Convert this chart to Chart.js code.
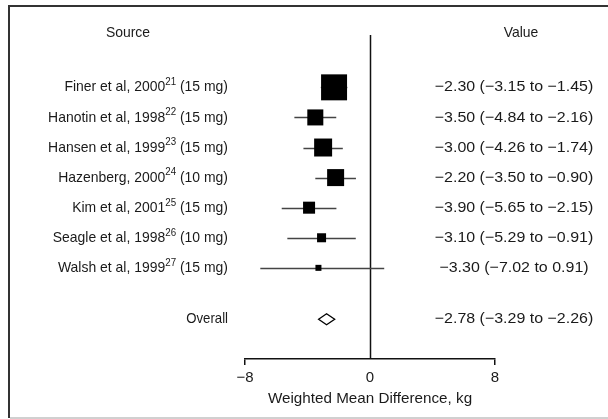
<!DOCTYPE html>
<html>
<head>
<meta charset="utf-8">
<script src="https://cdn.jsdelivr.net/npm/chart.js@4/dist/chart.umd.min.js"></script>
<style>
  html, body { margin: 0; padding: 0; background: #fff; }
  #wrap { width: 608px; height: 419px; position: relative; }
</style>
</head>
<body>
<div id="wrap"><canvas id="forest"></canvas></div>
<script>
// Study rows (top to bottom)
const studies = ['Finer et al, 2000', 'Hanotin et al, 1998', 'Hansen et al, 1999', 'Hazenberg, 2000',
                 'Kim et al, 2001', 'Seagle et al, 1998', 'Walsh et al, 1999'];
const refs = ['21', '22', '23', '24', '25', '26', '27'];
const doses = ['(15 mg)', '(15 mg)', '(15 mg)', '(10 mg)', '(15 mg)', '(10 mg)', '(15 mg)'];
const means = [-2.30, -3.50, -3.00, -2.20, -3.90, -3.10, -3.30];
const lowers = [-3.15, -4.84, -4.26, -3.50, -5.65, -5.29, -7.02];
const uppers = [-1.45, -2.16, -1.74, -0.90, -2.15, -0.91, 0.91];
// study weight, %
const weights = [37.4, 14.2, 17.9, 16.0, 8.0, 4.5, 2.0];

const overall = { label: 'Overall', mean: -2.78, lower: -3.29, upper: -2.26 };
const xTicks = [-8, 0, 8];
const xTitle = 'Weighted Mean Difference, kg';

const FONT = '"Liberation Sans", Arial, sans-serif';
const INK = '#1a1a1a';
const SQ = 0.93; // horizontal squeeze for the label column

const fmt = (v) => (v < 0 ? '\u2212' : '') + Math.abs(v).toFixed(2);
const ciText = (m, l, u) => `${fmt(m)} (${fmt(l)} to ${fmt(u)})`;
const overallY = 7.71;

function measure(ctx, txt, size, sx = SQ) {
  ctx.font = size + 'px ' + FONT;
  return ctx.measureText(txt).width * sx;
}
// draw text left-aligned at x, scaled horizontally by sx
function put(ctx, txt, x, y, size, sx = SQ) {
  ctx.save();
  ctx.font = size + 'px ' + FONT;
  ctx.textAlign = 'left';
  ctx.textBaseline = 'middle';
  ctx.translate(x, y);
  ctx.scale(sx, 1);
  ctx.fillText(txt, 0, 0);
  ctx.restore();
}
const putRight = (ctx, txt, x, y, size, sx = SQ) => put(ctx, txt, x - measure(ctx, txt, size, sx), y, size, sx);
const putCenter = (ctx, txt, x, y, size, sx = SQ) => put(ctx, txt, x - measure(ctx, txt, size, sx) / 2, y, size, sx);

/* Frame, column headings, labels, CI whiskers, zero line, overall diamond. */
const forestPlugin = {
  id: 'forest',
  beforeDraw(chart) {
    const { ctx } = chart;
    ctx.save();
    ctx.fillStyle = '#fff';
    ctx.fillRect(0, 0, chart.width, chart.height);
    ctx.strokeStyle = '#333';
    ctx.lineWidth = 2;
    ctx.beginPath();
    ctx.moveTo(608, 6); ctx.lineTo(9, 6); ctx.lineTo(9, 418);
    ctx.stroke();
    ctx.strokeStyle = '#d0d0d0';
    ctx.beginPath();
    ctx.moveTo(10, 418); ctx.lineTo(608, 418);
    ctx.stroke();
    ctx.restore();
  },
  beforeDatasetsDraw(chart) {
    const { ctx, chartArea } = chart;
    const xs = chart.scales.x, ys = chart.scales.y;
    ctx.save();
    // zero line
    const x0 = Math.round(xs.getPixelForValue(0)) + 0.5;
    ctx.strokeStyle = '#111';
    ctx.lineWidth = 1.5;
    ctx.beginPath();
    ctx.moveTo(x0, chartArea.top);
    ctx.lineTo(x0, chartArea.bottom);
    ctx.stroke();
    // whiskers
    ctx.strokeStyle = '#444';
    ctx.lineWidth = 1.3;
    studies.forEach((s, i) => {
      const y = Math.round(ys.getPixelForValue(i)) + 0.5;
      ctx.beginPath();
      ctx.moveTo(xs.getPixelForValue(lowers[i]), y);
      ctx.lineTo(xs.getPixelForValue(uppers[i]), y);
      ctx.stroke();
    });
    // overall diamond
    const yo = ys.getPixelForValue(overallY);
    ctx.strokeStyle = '#000';
    ctx.lineWidth = 1.3;
    ctx.beginPath();
    ctx.moveTo(xs.getPixelForValue(overall.lower), yo);
    ctx.lineTo(xs.getPixelForValue(overall.mean), yo - 5.5);
    ctx.lineTo(xs.getPixelForValue(overall.upper), yo);
    ctx.lineTo(xs.getPixelForValue(overall.mean), yo + 5.5);
    ctx.closePath();
    ctx.stroke();

    // text columns
    const labelRight = 228, valueMid = 514, fs = 15, sup = 10.5, sv = 1.065;
    ctx.fillStyle = INK;
    putCenter(ctx, 'Source', 128, 33, fs);
    putCenter(ctx, 'Value', 521, 33, fs);
    studies.forEach((s, i) => {
      const y = ys.getPixelForValue(i);
      const tail = ' ' + doses[i];
      const wTail = measure(ctx, tail, fs);
      const wName = measure(ctx, s, fs);
      const wRef = measure(ctx, refs[i], sup);
      const x = labelRight - wTail - wRef - wName;
      put(ctx, s, x, y, fs);
      put(ctx, refs[i], x + wName, y - 5, sup);
      put(ctx, tail, x + wName + wRef, y, fs);
      putCenter(ctx, ciText(means[i], lowers[i], uppers[i]), valueMid, y, fs, sv);
    });
    putRight(ctx, overall.label, labelRight, yo, fs, 0.88);
    putCenter(ctx, ciText(overall.mean, overall.lower, overall.upper), valueMid, yo, fs, sv);
    // axis title
    putCenter(ctx, xTitle, xs.getPixelForValue(0), chartArea.bottom + 40, fs, 1.015);
    ctx.restore();
  },
};

new Chart(document.getElementById('forest'), {
  type: 'scatter',
  data: {
    datasets: [{
      data: studies.map((s, i) => ({ x: means[i], y: i })),
      pointStyle: 'rect',
      // box side ~ sqrt(weight); rect side = radius * sqrt(2)
      pointRadius: weights.map((w) => Math.sqrt(w) * 4.25 / Math.SQRT2),
      backgroundColor: '#000',
      borderWidth: 0,
      hoverRadius: 0,
    }],
  },
  options: {
    responsive: true,
    maintainAspectRatio: false,
    animation: false,
    events: [],
    layout: { padding: { left: 245, right: 113, top: 35, bottom: 28 } },
    plugins: { legend: { display: false }, tooltip: { enabled: false } },
    scales: {
      x: {
        type: 'linear',
        min: -8,
        max: 8,
        afterBuildTicks: (axis) => { axis.ticks = xTicks.map((v) => ({ value: v })); },
        ticks: {
          color: INK,
          font: { family: FONT, size: 15 },
          padding: 4,
          callback: (v) => (v < 0 ? '\u2212' + Math.abs(v) : String(v)),
        },
        grid: {
          drawOnChartArea: false,
          tickLength: 6,
          lineWidth: 1.5,
          tickColor: (c) => (c.tick && c.tick.value === 0 ? 'rgba(0,0,0,0)' : '#111'),
        },
        border: { color: '#111', width: 1.5 },
      },
      y: {
        type: 'linear',
        display: false,
        reverse: true,
        min: -1.74,
        max: 9.03,
      },
    },
  },
  plugins: [forestPlugin],
});
</script>
</body>
</html>
